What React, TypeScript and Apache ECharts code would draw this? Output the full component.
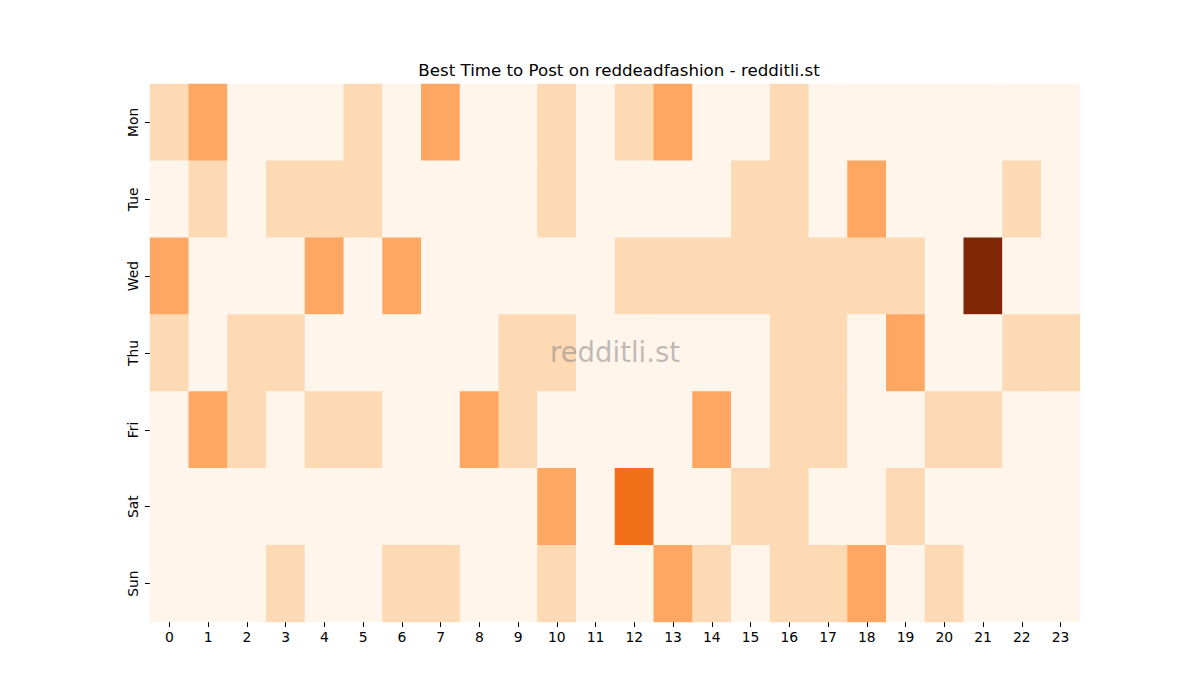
import React, { useEffect, useRef } from "react";
import * as echarts from "echarts";

const hours = ["0","1","2","3","4","5","6","7","8","9","10","11","12","13","14","15","16","17","18","19","20","21","22","23"];
const days = ["Mon", "Tue", "Wed", "Thu", "Fri", "Sat", "Sun"];

const mon = [1,2,0,0,0,1,0,2,0,0,1,0,1,2,0,0,1,0,0,0,0,0,0,0];
const tue = [0,1,0,1,1,1,0,0,0,0,1,0,0,0,0,1,1,0,2,0,0,0,1,0];
const wed = [2,0,0,0,2,0,2,0,0,0,0,0,1,1,1,1,1,1,1,1,0,5,0,0];
const thu = [1,0,1,1,0,0,0,0,0,1,1,0,0,0,0,0,1,1,0,2,0,0,1,1];
const fri = [0,2,1,0,1,1,0,0,2,1,0,0,0,0,2,0,1,1,0,0,1,1,0,0];
const sat = [0,0,0,0,0,0,0,0,0,0,2,0,3,0,0,1,1,0,0,1,0,0,0,0];
const sun = [0,0,0,1,0,0,1,1,0,0,1,0,0,2,1,0,1,1,2,0,1,0,0,0];

const rows = [mon, tue, wed, thu, fri, sat, sun];

export default function App() {
  const ref = useRef<HTMLDivElement>(null);
  useEffect(() => {
    if (!ref.current) return;
    const chart = echarts.init(ref.current, null, { renderer: "svg" });
    const data: number[][] = [];
    rows.forEach((r, y) => r.forEach((v, x) => data.push([x, y, v])));
    const font = "DejaVu Sans";
    chart.setOption({
      animation: false,
      backgroundColor: "#ffffff",
      title: {
        text: "Best Time to Post on reddeadfashion - redditli.st",
        left: 614,
        textAlign: "center",
        top: 57,
        textStyle: { fontFamily: font, fontSize: 16.67, fontWeight: "normal", color: "#000" },
      },
      grid: { left: 150, top: 84, width: 930, height: 538 },
      xAxis: {
        type: "category",
        data: hours,
        axisLine: { show: false },
        axisTick: { show: true, alignWithLabel: true, length: 5, lineStyle: { color: "#000" } },
        axisLabel: { fontFamily: font, fontSize: 13.9, color: "#000", margin: 8 },
        splitLine: { show: false },
      },
      yAxis: {
        type: "category",
        data: days,
        inverse: true,
        axisLine: { show: false },
        axisTick: { show: true, alignWithLabel: true, length: 5, lineStyle: { color: "#000" } },
        axisLabel: { fontFamily: font, fontSize: 13.9, color: "#000", rotate: 90, margin: 10 },
        splitLine: { show: false },
      },
      visualMap: {
        type: "piecewise",
        show: false,
        dimension: 2,
        pieces: [
          { value: 0, color: "#fff5eb" },
          { value: 1, color: "#fdd9b4" },
          { value: 2, color: "#fda762" },
          { value: 3, color: "#f3701b" },
          { value: 4, color: "#d94801" },
          { value: 5, color: "#7f2704" },
        ],
      },
      series: [
        {
          type: "heatmap",
          data,
          itemStyle: { borderWidth: 0 },
          emphasis: { disabled: true },
        },
      ],
      graphic: [
        {
          type: "text",
          x: 615,
          y: 352,
          z: 100,
          style: {
            text: "redditli.st",
            fontFamily: font,
            fontSize: 27.5,
            fill: "rgba(128,128,128,0.5)",
            align: "center",
            verticalAlign: "middle",
          },
        },
      ],
    });
    return () => chart.dispose();
  }, []);
  return (
    <div
      ref={ref}
      style={{ position: "absolute", left: 0, top: 0, width: 1200, height: 700 }}
    />
  );
}
